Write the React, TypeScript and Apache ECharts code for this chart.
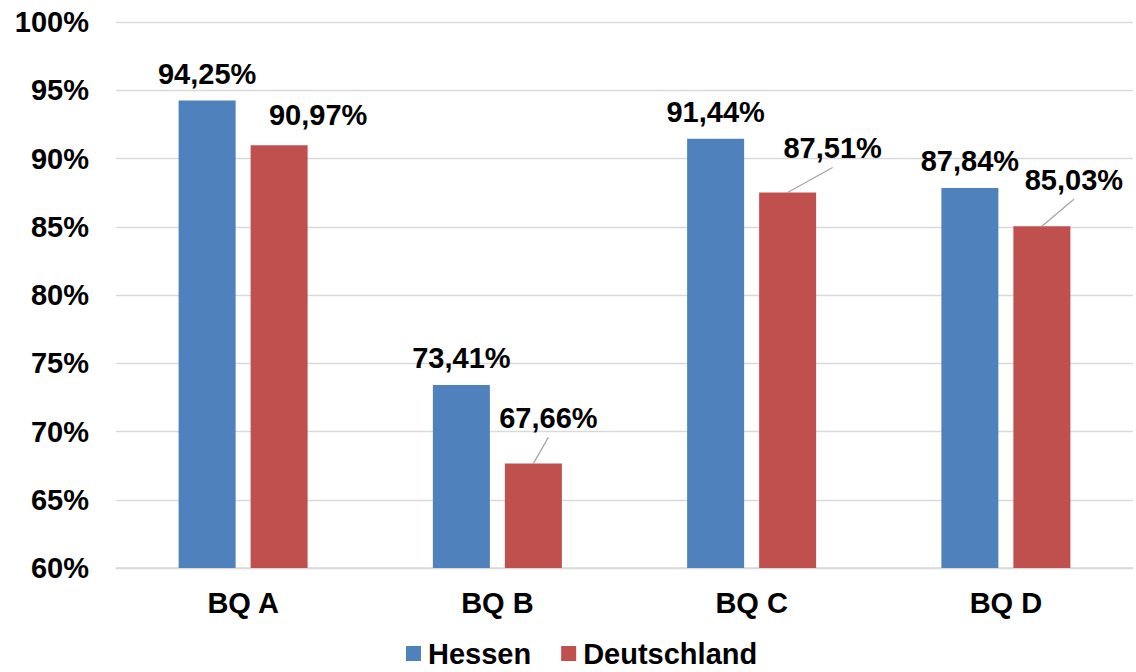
import React, { useEffect, useRef } from "react";
import * as echarts from "echarts";

const categories = ["BQ A", "BQ B", "BQ C", "BQ D"];
const seriesNames = ["Hessen", "Deutschland"];
const hessenValues = [94.25, 73.41, 91.44, 87.84];
const deutschlandValues = [90.97, 67.66, 87.51, 85.03];
const yTicks = { min: 60, max: 100, interval: 5 };

// label placement (style), not data
const deLabelShift = [
  [39, -4],
  [15, -19],
  [45, -18],
  [32, -20],
];
const deLeaderLine = [false, true, true, true];

const FONT = "'Liberation Sans', Arial, Helvetica, sans-serif";
const fmt = (v: number) => v.toFixed(2).replace(".", ",") + "%";
const BAR_W = 57;
const BAR_GAP_PX = 15;
const LABEL_DIST = 12;

export default function App() {
  const ref = useRef<HTMLDivElement>(null);
  useEffect(() => {
    if (!ref.current) return;
    const chart = echarts.init(ref.current, undefined, { renderer: "svg" });
    const labelBase = {
      show: true,
      position: "top",
      distance: LABEL_DIST,
      fontFamily: FONT,
      fontSize: 29,
      fontWeight: "bold",
      color: "#000",
      formatter: (p: any) => fmt(p.value),
    };
    chart.setOption({
      animation: false,
      textStyle: { fontFamily: FONT },
      grid: { left: 116, right: 3, top: 22, bottom: 104 },
      legend: {
        data: seriesNames,
        left: 406,
        top: 639,
        padding: 0,
        itemWidth: 15,
        itemHeight: 15,
        itemGap: 30,
        icon: "rect",
        textStyle: {
          fontFamily: FONT,
          fontSize: 29,
          lineHeight: 29,
          fontWeight: "bold",
          color: "#000",
          padding: [0, 0, 0, 2],
        },
      },
      xAxis: {
        type: "category",
        data: categories,
        axisTick: { show: false },
        axisLine: { lineStyle: { color: "#d9d9d9", width: 1.5 } },
        axisLabel: {
          fontFamily: FONT,
          fontSize: 29,
          fontWeight: "bold",
          color: "#000",
          margin: 20,
        },
      },
      yAxis: {
        type: "value",
        min: yTicks.min,
        max: yTicks.max,
        interval: yTicks.interval,
        axisLine: { show: false },
        axisTick: { show: false },
        splitLine: { lineStyle: { color: "#d9d9d9", width: 1.3 } },
        axisLabel: {
          fontFamily: FONT,
          fontSize: 29,
          fontWeight: "bold",
          color: "#000",
          margin: 27,
          formatter: (v: number) => `${v}%`,
        },
      },
      series: [
        {
          name: seriesNames[0],
          type: "bar",
          data: hessenValues,
          barWidth: BAR_W,
          barGap: `${(BAR_GAP_PX / BAR_W) * 100}%`,
          itemStyle: { color: "#4F81BD" },
          label: labelBase,
        },
        {
          name: seriesNames[1],
          type: "bar",
          data: deutschlandValues,
          barWidth: BAR_W,
          barGap: `${(BAR_GAP_PX / BAR_W) * 100}%`,
          itemStyle: { color: "#C0504D" },
          label: labelBase,
          labelLayout: (params: any) => {
            const [dx, dy] = deLabelShift[params.dataIndex];
            return { dx, dy };
          },
        },
        {
          name: "leader",
          type: "custom",
          silent: true,
          z: 5,
          data: deutschlandValues.map((v, i) => [i, v]),
          renderItem: (params: any, api: any) => {
            const i = params.dataIndex;
            if (!deLeaderLine[i]) return null;
            const p = api.coord([api.value(0), api.value(1)]);
            const barCx = p[0] + (BAR_W + BAR_GAP_PX) / 2;
            const [dx, dy] = deLabelShift[i];
            return {
              type: "line",
              shape: {
                x1: barCx,
                y1: p[1],
                x2: barCx + dx,
                y2: p[1] - LABEL_DIST + dy + 5,
              },
              style: { stroke: "#a6a6a6", lineWidth: 1.3 },
            };
          },
        },
      ],
    });
    return () => chart.dispose();
  }, []);
  return (
    <div
      ref={ref}
      style={{ position: "fixed", left: 0, top: 0, width: 1136, height: 672, background: "#fff" }}
    />
  );
}
